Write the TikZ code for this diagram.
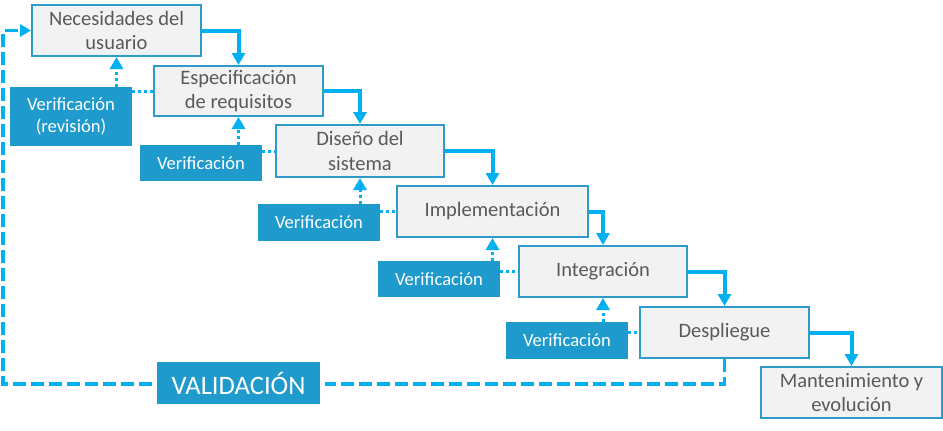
\documentclass[tikz,border=0pt]{standalone}
\usepackage{fontspec}
\setmainfont{Carlito}
\usetikzlibrary{arrows.meta}
\definecolor{lineblue}{HTML}{00B0F0}
\definecolor{boxborder}{HTML}{2E9BCB}
\definecolor{boxfill}{HTML}{F2F2F2}
\definecolor{vfill}{HTML}{1F9ACD}
\definecolor{txtgray}{HTML}{595959}
\tikzset{
  phase/.style={draw=boxborder, line width=2pt, fill=boxfill, text=txtgray,
    inner sep=0pt, align=center, minimum height=51pt,
    font=\fontsize{20.5}{24.5}\selectfont},
  verif/.style={fill=vfill, text=white, inner sep=0pt, align=center,
    minimum width=122pt, font=\fontsize{18.6}{22}\selectfont},
  flow/.style={draw=lineblue, line width=4pt, -{Triangle[width=13pt,length=12pt]}},
  dotline/.style={draw=lineblue, line width=3pt, dash pattern=on 3pt off 3pt},
  dotarrow/.style={dotline, -{Triangle[width=13pt,length=12pt]}},
  valid/.style={draw=lineblue, line width=3.5pt, dash pattern=on 13pt off 5pt},
}
\begin{document}
\begin{tikzpicture}[x=1pt,y=-1pt]
\useasboundingbox (0,0) rectangle (943,431);
% phases
\node[phase, minimum width=169pt] (B1) at (116.5,30.5) {Necesidades del\\usuario};
\node[phase, minimum width=169pt, minimum height=50pt] (B2) at (238.5,91) {Especificación\\de requisitos};
\node[phase, minimum width=168pt, minimum height=52pt] (B3) at (360,151) {Diseño del\\sistema};
\node[phase, minimum width=191pt] (B4) at (492.5,211.5) {Implementación};
\node[phase, minimum width=168pt] (B5) at (603,271.5) {Integración};
\node[phase, minimum width=169pt] (B6) at (724.5,332.5) {Despliegue};
\node[phase, minimum width=181pt] (B7) at (851.5,392.5) {Mantenimiento y\\evolución};
% verification boxes
\node[verif, minimum height=59pt] (V1) at (71,116.5) {Verificación\\(revisión)};
\node[verif, minimum height=36pt] (V2) at (201,163) {Verificación};
\node[verif, minimum height=37pt] (V3) at (319,222.5) {Verificación};
\node[verif, minimum height=36pt] (V4) at (439,279) {Verificación};
\node[verif, minimum height=37pt] (V5) at (567,340.5) {Verificación};
\node[verif, minimum width=163pt, minimum height=42pt, font=\fontsize{26.6}{32}\selectfont] (VAL) at (238.5,383) {VALIDACIÓN};
% main flow
\draw[flow] (B1.east) -| (B2.north);
\draw[flow] (B2.east) -| (B3.north);
\draw[flow] (B3.east) -| (B4.north);
\draw[flow] (B4.east) -| (B5.north);
\draw[flow] (B5.east) -| (B6.north);
\draw[flow] (B6.east) -| (B7.north);
% verification links
\draw[dotarrow] (B1.south |- V1.north) -- (B1.south);
\draw[dotline] (V1.east |- B2.west) -- (B2.west);
\draw[dotarrow] (B2.south |- V2.north) -- (B2.south);
\draw[dotline] (V2.east |- B3.west) -- (B3.west);
\draw[dotarrow] (B3.south |- V3.north) -- (B3.south);
\draw[dotline] (V3.east |- B4.west) -- (B4.west);
\draw[dotarrow] (B4.south |- V4.north) -- (B4.south);
\draw[dotline] (V4.east |- B5.west) -- (B5.west);
\draw[dotarrow] (B5.south |- V5.north) -- (B5.south);
\draw[dotline] (V5.east |- B6.west) -- (B6.west);
% validation loop
\coordinate (vl) at (3,384);
\draw[valid] (B6.south) |- ([xshift=5pt]VAL.east |- vl);
\draw[valid, -{Triangle[width=12pt,length=11pt]}] ([xshift=-5pt]VAL.west |- vl) -- (vl) |- (B1.west);
\end{tikzpicture}
\end{document}
